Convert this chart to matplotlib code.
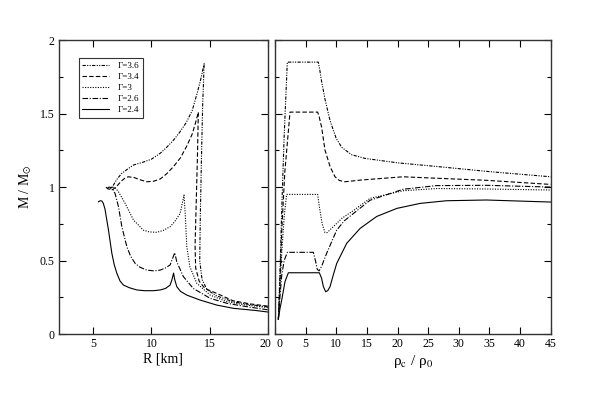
import matplotlib
matplotlib.use("Agg")
import matplotlib.pyplot as plt
from matplotlib.ticker import MultipleLocator
from matplotlib.transforms import ScaledTranslation

plt.rcParams['font.family'] = ['Liberation Serif', 'DejaVu Serif']
plt.rcParams['mathtext.fontset'] = 'stix'

labels = ['Γ=3.6', 'Γ=3.4', 'Γ=3', 'Γ=2.6', 'Γ=2.4']

# left panel: mass-radius curves, from R=20 km (low density) to the high density end
R_36 = [20, 18.5, 17, 15.6, 14.8, 14.35, 14.15, 14.2, 14.3, 14.4, 14.53,
        14.2, 13.9, 13.5, 13.0, 12.4, 11.9, 11.3, 10.75, 10.0, 9.3, 8.45, 7.9, 7.4,
        7.0, 6.7, 6.5, 6.3, 6.15, 6.05]
M_36 = [0.185, 0.2, 0.22, 0.26, 0.3, 0.37, 0.5, 0.8, 1.2, 1.55, 1.84,
        1.72, 1.63, 1.52, 1.44, 1.37, 1.32, 1.27, 1.23, 1.19, 1.17, 1.15, 1.12, 1.09,
        1.05, 1.01, 0.99, 0.985, 0.995, 1.0]

R_34 = [20, 18.5, 17, 15.6, 14.6, 14.1, 13.8, 13.75, 13.85, 13.95, 14.03,
        13.8, 13.5, 13.04, 12.5, 11.9, 11.3, 10.75, 10.2, 9.6, 9.0, 8.5, 8.0, 7.7,
        7.4, 7.0, 6.7, 6.45, 6.3]
M_34 = [0.19, 0.205, 0.227, 0.277, 0.31, 0.36, 0.45, 0.6, 0.9, 1.2, 1.51,
        1.44, 1.36, 1.28, 1.2, 1.14, 1.09, 1.055, 1.04, 1.036, 1.05, 1.065, 1.07, 1.06,
        1.04, 1.005, 0.985, 0.98, 0.99]

R_3 = [20, 17.9, 16.5, 15.05, 13.9, 13.3, 13.04, 12.9, 12.8,
       12.46, 12.0, 11.6, 11.0, 10.46, 9.8, 9.3, 8.45, 7.73, 7.16, 6.87, 6.59, 6.4]
M_3 = [0.18, 0.2, 0.22, 0.265, 0.345, 0.458, 0.594, 0.82, 0.946,
       0.82, 0.765, 0.73, 0.705, 0.692, 0.695, 0.707, 0.776, 0.889, 0.968, 0.995, 1.0, 0.99]

R_26 = [20, 17.9, 16.5, 15.05, 13.6, 12.75, 12.18, 12.0,
        11.6, 11.2, 10.75, 10.2, 9.6, 9.0, 8.6, 8.2, 7.88, 7.45, 7.16, 6.87, 6.6, 6.35, 6.1]
M_26 = [0.165, 0.19, 0.209, 0.243, 0.31, 0.39, 0.49, 0.553,
        0.47, 0.45, 0.435, 0.43, 0.435, 0.455, 0.48, 0.53, 0.594, 0.73, 0.866, 0.955, 0.995, 1.0, 0.985]

R_24 = [20, 19, 17.05, 15.62, 14.19, 13.04, 12.5, 12.18, 12.0, 11.9,
        11.75, 11.6, 11.2, 10.75, 10.17, 9.4, 8.74, 8.1, 7.59, 7.3, 7.02, 6.8, 6.59, 6.3, 6.0,
        5.85, 5.73, 5.58, 5.44]
M_24 = [0.15, 0.16, 0.175, 0.197, 0.231, 0.265, 0.29, 0.322, 0.37, 0.415,
        0.367, 0.333, 0.31, 0.3, 0.295, 0.295, 0.3, 0.315, 0.333, 0.36, 0.413, 0.47, 0.549, 0.707, 0.85,
        0.89, 0.905, 0.907, 0.9]

# right panel: mass vs central density
rho_36 = [0.55, 0.8, 1.1, 1.5, 2.01, 7.07, 7.3, 7.6, 8.2, 9.0, 10.0, 10.9, 12.5, 14.7, 20, 26.4, 35, 45]
Mr_36 = [0.1, 0.4, 0.85, 1.35, 1.85, 1.85, 1.8, 1.72, 1.59, 1.45, 1.33, 1.27, 1.22, 1.195, 1.165, 1.14, 1.105, 1.07]

rho_34 = [0.55, 0.8, 1.1, 1.6, 2.45, 6.96, 7.2, 7.6, 8.16, 9.0, 9.8, 10.5, 11.4, 14.1, 20.9, 26.4, 34.5, 45]
Mr_34 = [0.1, 0.35, 0.7, 1.1, 1.51, 1.51, 1.48, 1.41, 1.252, 1.138, 1.07, 1.045, 1.036, 1.048, 1.07, 1.06, 1.046, 1.018]

rho_3 = [0.55, 0.8, 1.1, 1.5, 1.9, 6.96, 7.3, 7.7, 8.16, 8.5, 9.5, 11.0, 12.8, 15.5, 20.9, 26.4, 34.5, 45]
Mr_3 = [0.1, 0.3, 0.55, 0.8, 0.95, 0.95, 0.85, 0.75, 0.69, 0.69, 0.73, 0.79, 0.84, 0.923, 0.975, 0.99, 0.987, 0.98]

rho_26 = [0.55, 0.8, 1.1, 1.5, 2.01, 6.26, 6.6, 6.9, 7.2, 7.6, 8.43, 10.07, 11.3, 12.8, 15.5, 20.9, 26.4, 34.5, 45]
Mr_26 = [0.1, 0.25, 0.4, 0.5, 0.556, 0.556, 0.5, 0.44, 0.43, 0.46, 0.549, 0.707, 0.77, 0.82, 0.91, 0.985, 1.01, 1.012, 1.0]

rho_24 = [0.55, 0.8, 1.09, 1.63, 2.18, 7.24, 7.6, 7.9, 8.27, 8.6, 8.98, 9.5, 10.07, 11.7, 13.9, 16.6, 19.9, 23.7, 28, 34.5, 45]
Mr_24 = [0.1, 0.17, 0.23, 0.356, 0.417, 0.417, 0.38, 0.322, 0.288, 0.295, 0.322, 0.4, 0.48, 0.617, 0.719, 0.8, 0.855, 0.889, 0.907, 0.912, 0.898]

styles = [(0, (3, 1.2, 1, 1.2, 1, 1.2)),
          (0, (4, 2)),
          (0, (1, 1.3)),
          (0, (5, 1.5, 1, 1.5)),
          '-']

left_R = [R_36, R_34, R_3, R_26, R_24]
left_M = [M_36, M_34, M_3, M_26, M_24]
right_rho = [rho_36, rho_34, rho_3, rho_26, rho_24]
right_M = [Mr_36, Mr_34, Mr_3, Mr_26, Mr_24]

fig = plt.figure(figsize=(5.91, 3.93), dpi=100)
ax1 = fig.add_axes([0.099, 0.150, 0.354, 0.748])
ax2 = fig.add_axes([0.4653, 0.150, 0.4665, 0.748])

for i in range(5):
    ax1.plot(left_R[i], left_M[i], color='black', lw=0.8, linestyle=styles[i], label=labels[i])
    ax2.plot(right_rho[i], right_M[i], color='black', lw=0.8, linestyle=styles[i])

for ax in (ax1, ax2):
    ax.set_ylim(0, 2)
    ax.yaxis.set_major_locator(MultipleLocator(0.5))
    ax.yaxis.set_minor_locator(MultipleLocator(0.25))
    ax.xaxis.set_major_locator(MultipleLocator(5))
    ax.tick_params(which='both', direction='in', top=True, right=True, labelsize=8.5, pad=3)
    ax.tick_params(which='major', length=5, width=0.8)
    ax.tick_params(which='minor', length=3, width=0.8)
    for s in ax.spines.values():
        s.set_linewidth(1.0)
        s.set_color('#333333')

ax1.set_xlim(2, 20)
ax2.set_xlim(0, 45)
ax1.yaxis.set_major_formatter(plt.FuncFormatter(lambda v, p: ('%g' % v)))
ax2.set_yticklabels([])

ax1.set_xlabel('R [km]', fontsize=10, labelpad=2)
ax1.set_ylabel(r'M / M$_{\odot}$', fontsize=10, labelpad=4)
ax2.set_xlabel(r'ρ$_{\rm c}$ / ρ$_{\rm 0}$', fontsize=11, labelpad=2)

leg = ax1.legend(loc='upper left', bbox_to_anchor=(0.0966, 0.938), borderaxespad=0,
                 fontsize=6.5, handlelength=3.0, labelspacing=0.3, fancybox=False,
                 framealpha=1, edgecolor='#333333', borderpad=0.4, handletextpad=0.9)
leg.get_frame().set_linewidth(0.8)

# draw once so every tick exists, then nudge the "20" / "0" pair apart
fig.canvas.draw()
for t in ax1.xaxis.get_major_ticks():
    if abs(t.get_loc() - 20) < 1e-6:
        t.label1.set_transform(t.label1.get_transform() + ScaledTranslation(-1.5 / 72, 0, fig.dpi_scale_trans))
for t in ax2.xaxis.get_major_ticks():
    if abs(t.get_loc()) < 1e-6:
        t.label1.set_transform(t.label1.get_transform() + ScaledTranslation(3.0 / 72, 0, fig.dpi_scale_trans))

fig.savefig('out.png', dpi=100)
